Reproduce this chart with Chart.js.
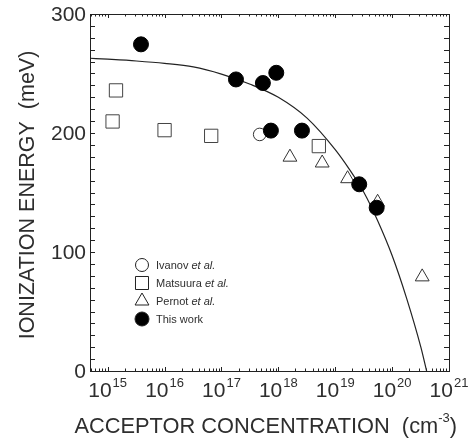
<!DOCTYPE html>
<html>
<head>
<meta charset="utf-8">
<script src="https://cdn.jsdelivr.net/npm/chart.js@4.4.1/dist/chart.umd.min.js"></script>
<style>
  html, body { margin: 0; padding: 0; background: #fff; }
  #wrap { width: 471px; height: 443px; position: relative; }
</style>
</head>
<body>
<div id="wrap"><canvas id="chart"></canvas></div>
<script>
// Fit curve
var curveN = [4.9e14, 1e15, 3.2e15, 1e16, 3.2e16, 1e17, 3.2e17, 1e18, 3.2e18, 1e19, 1.8e19, 3.2e19, 5.6e19, 1e20, 1.8e20, 3.2e20, 4.04e20];
var curveE = [262.8, 262, 260.5, 258.5, 255.5, 249.5, 241, 230, 212.5, 186, 169, 150, 126, 97, 61, 20, 0];

// This work
var thisN = [3.85e15, 1.8e17, 5.35e17, 9.2e17, 7.4e17, 2.6e18, 2.64e19, 5.35e19];
var thisE = [274.5, 245, 242, 250.6, 202, 202, 156.9, 137.2];

// Ivanov et al.
var ivanovN = [4.7e17];
var ivanovE = [198.8];

// Matsuura et al.
var matsuuraN = [1.4e15, 1.22e15, 1e16, 6.6e16, 5.15e18];
var matsuuraE = [235.8, 209.7, 202.4, 197.6, 189];

// Pernot et al.
var pernotN = [1.6e18, 5.9e18, 1.65e19, 5.56e19, 3.38e20];
var pernotE = [179.7, 174.8, 161.6, 141.8, 79.1];

// Axis ticks
var xTickExp = [15, 16, 17, 18, 19, 20, 21];
var yTicks = [0, 100, 200, 300];

var FONT = '"Liberation Sans", Arial, sans-serif';
var INK = '#2e2e2e';

function toPoints(xs, ys) {
    return xs.map(function(x, i) { return { x: x, y: ys[i] }; });
}

/**
 * Desenha moldura, ticks internos, rótulos, títulos e legenda
 */
var decorPlugin = {
    id: 'decor',
    afterDraw: function(chart) {
        var ctx = chart.ctx;
        var a = chart.chartArea;
        var xs = chart.scales.x;
        var ys = chart.scales.y;

        ctx.save();
        ctx.strokeStyle = '#222';
        ctx.lineWidth = 1;
        ctx.strokeRect(a.left + 0.5, a.top + 0.5, a.right - a.left, a.bottom - a.top);

        // x ticks (log), bottom and top
        ctx.beginPath();
        for (var e = 14; e <= 20; e++) {
            for (var m = 1; m <= 9; m++) {
                var v = m * Math.pow(10, e);
                if (v < xs.min || v > xs.max) continue;
                var px = Math.round(xs.getPixelForValue(v)) + 0.5;
                var len = m === 1 ? 4 : 2.5;
                ctx.moveTo(px, a.bottom);
                ctx.lineTo(px, a.bottom - len);
                ctx.moveTo(px, a.top);
                ctx.lineTo(px, a.top + len);
            }
        }
        // y ticks, left and right
        for (var t = 10; t < 300; t += 10) {
            var py = Math.round(ys.getPixelForValue(t)) + 0.5;
            ctx.moveTo(a.left, py);
            ctx.lineTo(a.left + 5, py);
            ctx.moveTo(a.right, py);
            ctx.lineTo(a.right - 5, py);
        }
        ctx.stroke();

        ctx.fillStyle = INK;

        // y tick labels
        ctx.font = '21px ' + FONT;
        ctx.textAlign = 'right';
        ctx.textBaseline = 'middle';
        yTicks.forEach(function(t) {
            ctx.fillText(String(t), a.left - 4, ys.getPixelForValue(t) + 1);
        });

        // x tick labels 10^n
        ctx.textBaseline = 'alphabetic';
        ctx.textAlign = 'left';
        xTickExp.forEach(function(n) {
            var px = xs.getPixelForValue(Math.pow(10, n));
            ctx.font = '21px ' + FONT;
            var wb = ctx.measureText('10').width;
            ctx.font = '13px ' + FONT;
            var we = ctx.measureText(String(n)).width;
            var x0 = px - (wb + 1 + we) / 2;
            ctx.font = '21px ' + FONT;
            ctx.fillText('10', x0, 397);
            ctx.font = '13px ' + FONT;
            ctx.fillText(String(n), x0 + wb + 1, 387);
        });

        // x title
        ctx.font = '21.8px ' + FONT;
        var t1 = 'ACCEPTOR CONCENTRATION  (cm';
        var w1 = ctx.measureText(t1).width;
        ctx.font = '13px ' + FONT;
        var w2 = ctx.measureText('-3').width;
        ctx.font = '21.8px ' + FONT;
        var w3 = ctx.measureText(')').width;
        var tx = 457 - (w1 + w2 + w3);
        ctx.fillText(t1, tx, 433);
        ctx.font = '13px ' + FONT;
        ctx.fillText('-3', tx + w1, 422);
        ctx.font = '21.8px ' + FONT;
        ctx.fillText(')', tx + w1 + w2, 433);

        // y title
        ctx.save();
        ctx.translate(34, 195);
        ctx.rotate(-Math.PI / 2);
        ctx.textAlign = 'center';
        ctx.font = '21.5px ' + FONT;
        ctx.fillText('IONIZATION ENERGY  (meV)', 0, 0);
        ctx.restore();

        // legend
        var lx = 142;
        var items = [
            { y: 265, style: 'circle', r: 6.5, fill: false, name: 'Ivanov ' },
            { y: 283, style: 'rect', r: 9.2, fill: false, name: 'Matsuura ' },
            { y: 301, style: 'triangle', r: 8, fill: false, name: 'Pernot ' },
            { y: 319, style: 'circle', r: 7, fill: true, name: 'This work' }
        ];
        items.forEach(function(it) {
            ctx.fillStyle = it.fill ? '#000' : '#fff';
            ctx.strokeStyle = '#222';
            ctx.lineWidth = 1;
            Chart.helpers.drawPoint(ctx, { pointStyle: it.style, radius: it.r, borderWidth: 1, rotation: 0 }, lx, it.y);
            ctx.fillStyle = INK;
            ctx.textAlign = 'left';
            ctx.textBaseline = 'middle';
            ctx.font = '11px ' + FONT;
            ctx.fillText(it.name, 156, it.y + 1);
            if (!it.fill) {
                var wn = ctx.measureText(it.name).width;
                ctx.font = 'italic 11px ' + FONT;
                ctx.fillText('et al.', 156 + wn, it.y + 1);
            }
        });
        ctx.restore();
    }
};

function initChart() {
    var ctx = document.getElementById('chart').getContext('2d');
    new Chart(ctx, {
        type: 'scatter',
        data: {
            datasets: [
                {
                    label: 'This work',
                    data: toPoints(thisN, thisE),
                    pointStyle: 'circle',
                    pointRadius: 7.5,
                    backgroundColor: '#000',
                    borderColor: '#000',
                    borderWidth: 1
                },
                {
                    label: 'Ivanov et al.',
                    data: toPoints(ivanovN, ivanovE),
                    pointStyle: 'circle',
                    pointRadius: 6.3,
                    backgroundColor: 'rgba(255,255,255,0)',
                    borderColor: '#333',
                    borderWidth: 1
                },
                {
                    label: 'Matsuura et al.',
                    data: toPoints(matsuuraN, matsuuraE),
                    pointStyle: 'rect',
                    pointRadius: 9.4,
                    backgroundColor: 'rgba(255,255,255,0)',
                    borderColor: '#444',
                    borderWidth: 1
                },
                {
                    label: 'Pernot et al.',
                    data: toPoints(pernotN, pernotE),
                    pointStyle: 'triangle',
                    pointRadius: 8,
                    backgroundColor: 'rgba(255,255,255,0)',
                    borderColor: '#333',
                    borderWidth: 1
                },
                {
                    label: 'fit',
                    type: 'line',
                    data: toPoints(curveN, curveE),
                    borderColor: '#222',
                    borderWidth: 1.2,
                    pointRadius: 0,
                    fill: false,
                    cubicInterpolationMode: 'monotone'
                }
            ]
        },
        options: {
            responsive: true,
            maintainAspectRatio: false,
            animation: false,
            layout: { padding: { left: 90, right: 22, top: 14, bottom: 72 } },
            plugins: {
                legend: { display: false },
                tooltip: { enabled: false }
            },
            scales: {
                x: {
                    type: 'logarithmic',
                    min: 4.89e14,
                    max: 1e21,
                    display: false
                },
                y: {
                    type: 'linear',
                    min: 0,
                    max: 300,
                    display: false
                }
            }
        },
        plugins: [decorPlugin]
    });
}

initChart();
</script>
</body>
</html>
